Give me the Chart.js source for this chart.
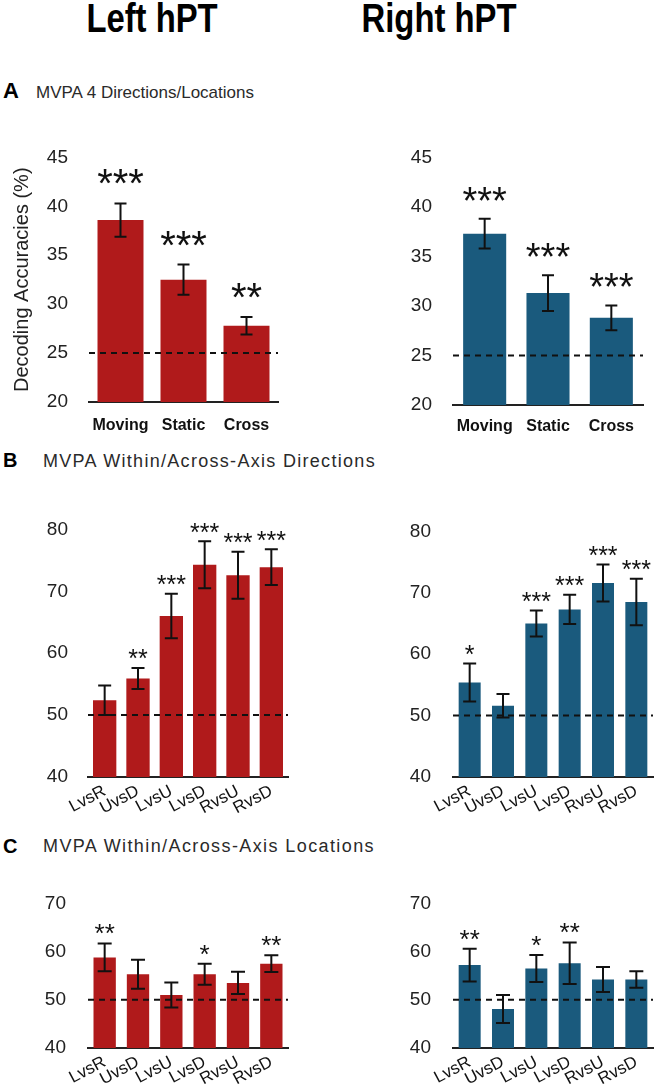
<!DOCTYPE html>
<html>
<head>
<meta charset="utf-8">
<script src="https://cdn.jsdelivr.net/npm/chart.js@4"></script>
<style>
  body { margin:0; background:#fff; width:656px; height:1084px; position:relative; overflow:hidden;
         font-family:"Liberation Sans", Arial, sans-serif; }
  .t { position:absolute; white-space:nowrap; line-height:1; }
  .big { font-size:40px; font-weight:bold; color:#000; width:200px; text-align:center; transform:scaleX(0.82); }
  .let { font-weight:bold; color:#000; }
  .sub { color:#2a2a2a; }
  canvas { position:absolute; }
</style>
</head>
<body>
<div class="t big" style="left:52px;top:-2px">Left hPT</div>
<div class="t big" style="left:339px;top:-2px">Right hPT</div>

<div class="t let" style="left:3px;top:80px;font-size:22px">A</div>
<div class="t sub" style="left:36px;top:84px;font-size:17px">MVPA 4 Directions/Locations</div>
<div class="t let" style="left:3px;top:450px;font-size:20px">B</div>
<div class="t sub" style="left:43px;top:452px;font-size:18px;letter-spacing:1.3px">MVPA Within/Across-Axis Directions</div>
<div class="t let" style="left:3px;top:836px;font-size:20px">C</div>
<div class="t sub" style="left:43px;top:837px;font-size:18px;letter-spacing:1.4px">MVPA Within/Across-Axis Locations</div>

<canvas id="aL" width="290" height="315" style="left:0;top:125px"></canvas>
<canvas id="aR" width="276" height="315" style="left:380px;top:125px"></canvas>
<canvas id="bL" width="300" height="322" style="left:0;top:498px"></canvas>
<canvas id="bR" width="276" height="322" style="left:380px;top:498px"></canvas>
<canvas id="cL" width="300" height="214" style="left:0;top:870px"></canvas>
<canvas id="cR" width="276" height="214" style="left:380px;top:870px"></canvas>

<script>
// categories
const condA = ['Moving', 'Static', 'Cross']
const pairs = ['LvsR', 'UvsD', 'LvsU', 'LvsD', 'RvsU', 'RvsD']

// A: 4 directions/locations (chance 25)
const leftA = [38.6, 32.5, 27.8]
const leftAErr = [1.7, 1.55, 0.9]
const leftAStars = ['***', '***', '**']
const rightA = [37.3, 31.3, 28.8]
const rightAErr = [1.5, 1.8, 1.25]
const rightAStars = ['***', '***', '***']

// B: within/across-axis directions (chance 50)
const leftB = [52.4, 55.9, 66.0, 74.3, 72.6, 73.9]
const leftBErr = [2.4, 1.7, 3.6, 3.8, 3.8, 2.9]
const leftBStars = ['', '**', '***', '***', '***', '***']
const rightB = [55.4, 51.6, 65.0, 67.3, 71.6, 68.5]
const rightBErr = [3.1, 1.9, 2.1, 2.4, 3.0, 3.8]
const rightBStars = ['*', '', '***', '***', '***', '***']

// C: within/across-axis locations (chance 50)
const leftC = [58.8, 55.3, 51.0, 55.3, 53.5, 57.5]
const leftCErr = [2.9, 3.0, 2.6, 2.2, 2.3, 1.75]
const leftCStars = ['**', '', '', '*', '', '**']
const rightC = [57.2, 48.1, 56.5, 57.6, 54.2, 54.2]
const rightCErr = [3.4, 2.9, 2.8, 4.3, 2.6, 1.7]
const rightCStars = ['**', '', '*', '**', '', '']

// axis ranges
const rangeA = [20, 45, 5]
const rangeB = [40, 80, 10]
const rangeC = [40, 70, 10]

const rojo = '#b01a1b'
const azul = '#1a5a7d'
const fuente = '"Liberation Sans", Arial, sans-serif'

// error bars, chance line and stars
const extras = {
    id: 'extras',
    afterDatasetsDraw(chart, args, o) {
        const ctx = chart.ctx
        const y = chart.scales.y
        const area = chart.chartArea
        const valores = chart.data.datasets[0].data
        ctx.save()

        const cy = y.getPixelForValue(o.chance)
        ctx.strokeStyle = '#111'
        ctx.lineWidth = 2
        ctx.setLineDash([6, 5])
        ctx.beginPath()
        ctx.moveTo(area.left, cy)
        ctx.lineTo(area.right, cy)
        ctx.stroke()
        ctx.setLineDash([])

        chart.getDatasetMeta(0).data.forEach((bar, i) => {
            const v = valores[i]
            const e = o.err[i]
            const arriba = y.getPixelForValue(v + e)
            const abajo = y.getPixelForValue(v - e)
            const w = o.cap / 2
            ctx.strokeStyle = '#111'
            ctx.lineWidth = 2
            ctx.beginPath()
            ctx.moveTo(bar.x, arriba); ctx.lineTo(bar.x, abajo)
            ctx.moveTo(bar.x - w, arriba); ctx.lineTo(bar.x + w, arriba)
            ctx.moveTo(bar.x - w, abajo); ctx.lineTo(bar.x + w, abajo)
            ctx.stroke()

            if (o.stars[i]) {
                ctx.fillStyle = '#111'
                ctx.font = o.starSize + 'px ' + fuente
                ctx.textAlign = 'center'
                ctx.textBaseline = 'alphabetic'
                ctx.fillText(o.stars[i], bar.x, arriba - o.gap + 0.575 * o.starSize)
            }
        })
        ctx.restore()
    }
}

function grafico(id, etiquetas, valores, errores, estrellas, color, rango, cfg) {
    const ctx = document.getElementById(id)
    const rotado = cfg.rot > 0
    const chart = new Chart(ctx, {
        type: 'bar',
        data: {
            labels: etiquetas,
            datasets: [{
                data: valores,
                backgroundColor: color,
                borderWidth: 0,
                barPercentage: cfg.bar,
                categoryPercentage: 1
            }]
        },
        options: {
            responsive: false,
            animation: false,
            devicePixelRatio: 1,
            layout: { padding: { top: cfg.pt, right: cfg.pr, bottom: 0, left: 0 } },
            plugins: {
                legend: { display: false },
                tooltip: { enabled: false },
                extras: {
                    err: errores, stars: estrellas, chance: cfg.chance,
                    cap: cfg.cap, gap: cfg.gap, starSize: cfg.starSize
                }
            },
            scales: {
                x: {
                    grid: { display: false, drawTicks: false },
                    border: { display: true, color: '#222', width: 2 },
                    ticks: {
                        color: '#111',
                        padding: cfg.xpad,
                        autoSkip: false,
                        minRotation: cfg.rot,
                        maxRotation: cfg.rot,
                        font: { family: fuente, size: rotado ? 17 : 16, weight: rotado ? 'normal' : 'bold' }
                    },
                    afterFit: (s) => { s.height = cfg.xH }
                },
                y: {
                    min: rango[0],
                    max: rango[1],
                    grid: { display: false, drawTicks: false },
                    border: { display: false },
                    ticks: {
                        stepSize: rango[2],
                        color: '#222',
                        padding: cfg.ypad,
                        font: { family: fuente, size: 19 }
                    },
                    title: {
                        display: !!cfg.titulo,
                        text: cfg.titulo || '',
                        color: '#222',
                        padding: { top: 10, bottom: 0 },
                        font: { family: fuente, size: 20 }
                    },
                    afterFit: (s) => { s.width = cfg.yW }
                }
            }
        },
        plugins: [extras]
    })

    // llevar el borde superior del area al valor pedido
    for (let k = 0; k < 3; k++) {
        const dif = cfg.pt - chart.chartArea.top
        if (Math.abs(dif) < 0.5) break
        chart.options.layout.padding.top += dif
        chart.update()
    }
    return chart
}

grafico('aL', condA, leftA, leftAErr, leftAStars, rojo, rangeA,
    { yW: 89, pt: 30, pr: 12, xH: 38, xpad: 14, ypad: 21, rot: 0, bar: 0.73, chance: 25, cap: 12, gap: 29, starSize: 40,
      titulo: 'Decoding Accuracies (%)' })
grafico('aR', condA, rightA, rightAErr, rightAStars, azul, rangeA,
    { yW: 73, pt: 30, pr: 13, xH: 35, xpad: 12, ypad: 21, rot: 0, bar: 0.68, chance: 25, cap: 12, gap: 27, starSize: 38 })
grafico('bL', pairs, leftB, leftBErr, leftBStars, rojo, rangeB,
    { yW: 88, pt: 30, pr: 12, xH: 43, xpad: 4, ypad: 20, rot: 28, bar: 0.7, chance: 50, cap: 13, gap: 15, starSize: 25 })
grafico('bR', pairs, rightB, rightBErr, rightBStars, azul, rangeB,
    { yW: 73, pt: 30, pr: 3, xH: 43, xpad: 4, ypad: 22, rot: 28, bar: 0.66, chance: 50, cap: 13, gap: 15, starSize: 25 })
grafico('cL', pairs, leftC, leftCErr, leftCStars, rojo, rangeC,
    { yW: 88, pt: 30, pr: 12, xH: 36, xpad: 4, ypad: 22, rot: 28, bar: 0.67, chance: 50, cap: 14, gap: 16, starSize: 26 })
grafico('cR', pairs, rightC, rightCErr, rightCStars, azul, rangeC,
    { yW: 73, pt: 30, pr: 3, xH: 36, xpad: 4, ypad: 22, rot: 28, bar: 0.66, chance: 50, cap: 14, gap: 16, starSize: 26 })
</script>
</body>
</html>
